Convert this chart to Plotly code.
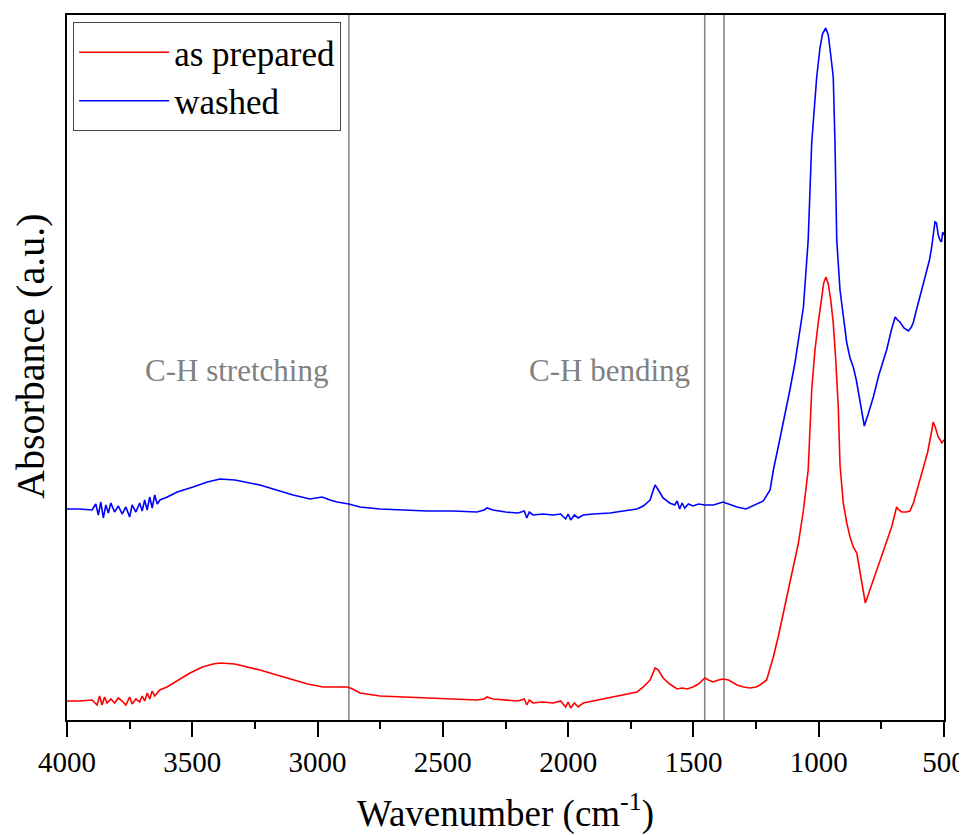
import plotly.graph_objects as go

# ---------------- data ----------------
wn_red = [4000, 3950, 3900, 3880, 3870, 3860, 3850, 3840, 3825, 3810, 3795, 3780, 3765, 3750, 3740,
          3725, 3710, 3700, 3690, 3680, 3670, 3660, 3650, 3630, 3601, 3560, 3509, 3460, 3417, 3389,
          3330, 3230, 3160, 3098, 3040, 2978, 2920, 2880, 2860, 2831, 2751, 2650, 2563, 2460, 2364,
          2335, 2324, 2300, 2250, 2200, 2175, 2165, 2155, 2140, 2100, 2060, 2030, 2010, 2000, 1990,
          1975, 1960, 1940, 1900, 1833, 1780, 1725, 1700, 1673, 1653, 1640, 1621, 1595, 1565, 1545,
          1525, 1502, 1480, 1454, 1440, 1422, 1400, 1382, 1360, 1326, 1300, 1274, 1250, 1234, 1208,
          1195, 1181, 1160, 1141, 1115, 1095, 1081, 1061, 1042, 1028, 1015, 1002, 990, 980, 971,
          962, 952, 942, 932, 922, 915, 908, 902, 888, 875, 862, 855, 848, 842, 835, 825, 814, 800,
          782, 760, 742, 725, 709, 695, 689, 680, 669, 650, 636, 622, 610, 596, 583, 565, 550, 543,
          535, 523, 515, 509, 500]
abs_red = [0.19, 0.19, 0.20, 0.15, 0.24, 0.15, 0.23, 0.17, 0.21, 0.17, 0.22, 0.19, 0.15, 0.23, 0.16,
           0.21, 0.18, 0.24, 0.19, 0.27, 0.21, 0.29, 0.24, 0.30, 0.33, 0.39, 0.47, 0.53, 0.56, 0.57,
           0.56, 0.50, 0.45, 0.40, 0.36, 0.33, 0.33, 0.33, 0.31, 0.27, 0.24, 0.23, 0.22, 0.21, 0.20,
           0.21, 0.23, 0.21, 0.20, 0.19, 0.21, 0.15, 0.20, 0.17, 0.18, 0.17, 0.19, 0.13, 0.18, 0.12,
           0.17, 0.13, 0.17, 0.19, 0.22, 0.25, 0.28, 0.33, 0.40, 0.52, 0.50, 0.42, 0.36, 0.31, 0.32,
           0.31, 0.33, 0.36, 0.42, 0.40, 0.38, 0.40, 0.41, 0.40, 0.35, 0.33, 0.32, 0.33, 0.35, 0.40,
           0.50, 0.63, 0.85, 1.07, 1.40, 1.62, 1.77, 2.10, 2.50, 3.30, 3.70, 3.97, 4.20, 4.37, 4.43,
           4.36, 4.20, 3.97, 3.60, 3.13, 2.55, 2.35, 2.17, 1.97, 1.83, 1.73, 1.70, 1.67, 1.58, 1.47,
           1.30, 1.17, 1.27, 1.40, 1.57, 1.70, 1.82, 1.93, 2.07, 2.13, 2.10, 2.08, 2.08, 2.09, 2.17,
           2.28, 2.40, 2.50, 2.68, 2.88, 2.98, 2.93, 2.83, 2.80, 2.77, 2.80]

wn_blue = [4000, 3950, 3900, 3885, 3875, 3865, 3855, 3845, 3835, 3825, 3810, 3795, 3780, 3765, 3750,
           3740, 3725, 3710, 3700, 3690, 3680, 3670, 3660, 3650, 3640, 3629, 3600, 3560, 3497, 3440,
           3389, 3330, 3230, 3160, 3098, 3030, 3000, 2982, 2950, 2922, 2875, 2831, 2751, 2650, 2563,
           2460, 2364, 2335, 2324, 2300, 2250, 2200, 2175, 2165, 2155, 2140, 2100, 2060, 2030, 2010,
           2000, 1990, 1975, 1960, 1940, 1900, 1833, 1780, 1725, 1700, 1673, 1660, 1653, 1640, 1621,
           1595, 1575, 1565, 1555, 1545, 1535, 1520, 1502, 1480, 1454, 1420, 1400, 1382, 1360, 1326,
           1290, 1262, 1221, 1194, 1181, 1160, 1141, 1115, 1095, 1061, 1042, 1028, 1015, 1008, 995,
           985, 972, 962, 952, 942, 935, 928, 915, 900, 888, 875, 862, 850, 835, 818, 800, 782, 760,
           729, 710, 695, 685, 676, 660, 642, 630, 622, 610, 596, 583, 569, 558, 549, 540, 536, 530,
           523, 516, 510, 505, 500]
abs_blue = [2.11, 2.11, 2.10, 2.16, 2.05, 2.18, 2.02, 2.15, 2.07, 2.17, 2.08, 2.14, 2.06, 2.13, 2.03,
            2.15, 2.08, 2.17, 2.09, 2.20, 2.10, 2.23, 2.12, 2.25, 2.16, 2.20, 2.23, 2.28, 2.33, 2.38,
            2.41, 2.40, 2.35, 2.30, 2.25, 2.21, 2.22, 2.23, 2.20, 2.18, 2.16, 2.13, 2.11, 2.10, 2.09,
            2.09, 2.08, 2.10, 2.12, 2.10, 2.08, 2.07, 2.09, 2.02, 2.08, 2.05, 2.06, 2.05, 2.06, 2.01,
            2.06, 2.00, 2.05, 2.02, 2.05, 2.06, 2.07, 2.09, 2.11, 2.14, 2.20, 2.30, 2.35, 2.30, 2.22,
            2.17, 2.15, 2.19, 2.11, 2.17, 2.12, 2.16, 2.14, 2.16, 2.15, 2.15, 2.17, 2.18, 2.16, 2.13,
            2.11, 2.14, 2.19, 2.30, 2.50, 2.75, 2.97, 3.30, 3.57, 4.13, 4.80, 5.77, 6.20, 6.43, 6.72,
            6.86, 6.92, 6.85, 6.65, 6.43, 5.77, 4.80, 4.30, 4.00, 3.77, 3.62, 3.53, 3.40, 3.20, 2.94,
            3.08, 3.23, 3.45, 3.70, 3.90, 4.03, 4.00, 3.98, 3.92, 3.89, 3.93, 3.98, 4.10, 4.23, 4.35,
            4.47, 4.60, 4.73, 4.95, 4.98, 4.97, 4.85, 4.80, 4.78, 4.88, 4.85]

series_names = ["as prepared", "washed"]
band_lines = [2875, 1455, 1378]
band_labels = ["C-H stretching", "C-H bending"]
band_label_x = [3325, 1833]
band_label_y = [3.50, 3.50]
x_ticks = [4000, 3500, 3000, 2500, 2000, 1500, 1000, 500]
x_title = "Wavenumber (cm<sup>-1</sup>)"
y_title = "Absorbance (a.u.)"

FONT = "Liberation Serif"

fig = go.Figure()
fig.add_trace(go.Scatter(x=wn_red, y=abs_red, mode="lines", name=series_names[0],
                         line=dict(color="#ff0000", width=1.6)))
fig.add_trace(go.Scatter(x=wn_blue, y=abs_blue, mode="lines", name=series_names[1],
                         line=dict(color="#0000ff", width=1.6)))

for b in band_lines:
    fig.add_shape(type="line", x0=b, x1=b, y0=0, y1=1, xref="x", yref="paper",
                  line=dict(color="#808080", width=1.5), layer="below")

for t, xx, yy in zip(band_labels, band_label_x, band_label_y):
    fig.add_annotation(x=xx, y=yy, text=t, showarrow=False,
                       font=dict(family=FONT, size=31, color="#808080"))

# y-axis title as a rotated annotation (slightly above the axis centre, as in the reference)
fig.add_annotation(text=y_title, xref="paper", yref="paper", x=-0.041, y=0.515,
                   xanchor="center", yanchor="middle", textangle=-90, showarrow=False,
                   font=dict(family=FONT, size=40, color="black"))

# the page body adds an 8 px offset, so the figure is 8 px smaller than the window
fig.update_layout(
    width=959, height=827,
    margin=dict(l=59, r=23, t=7, b=115),
    paper_bgcolor="white", plot_bgcolor="white",
    font=dict(family=FONT, color="black"),
    showlegend=True,
    legend=dict(x=0.007, y=0.99, xanchor="left", yanchor="top",
                bgcolor="white", bordercolor="#444", borderwidth=1,
                font=dict(family=FONT, size=35), itemwidth=90, tracegroupgap=0),
    xaxis=dict(range=[4000, 500], tickvals=x_ticks, ticks="outside", ticklen=15, tickwidth=2,
               tickcolor="black", showline=True, linecolor="black", linewidth=2, mirror=True,
               showgrid=False, zeroline=False, automargin=False,
               tickfont=dict(family=FONT, size=29, color="black"),
               minor=dict(dtick=250, ticks="outside", ticklen=7, tickwidth=2, tickcolor="black", showgrid=False),
               title=dict(text=x_title, font=dict(family=FONT, size=37), standoff=23)),
    yaxis=dict(range=[0, 7.05], showticklabels=False, ticks="", showline=True, linecolor="black",
               linewidth=2, mirror=True, showgrid=False, zeroline=False, automargin=False),
)

fig.write_html("out.html")
